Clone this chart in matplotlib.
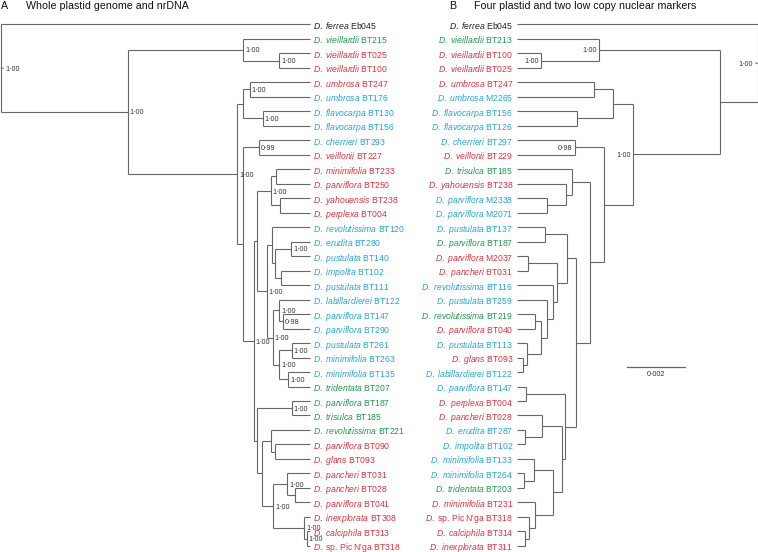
import matplotlib
matplotlib.use("Agg")
import matplotlib.pyplot as plt

plt.rcParams["font.family"] = ["Liberation Sans", "DejaVu Sans"]
plt.rcParams["mathtext.fontset"] = "custom"
plt.rcParams["mathtext.it"] = "Liberation Sans:italic"
plt.rcParams["mathtext.rm"] = "Liberation Sans"

# colour per group
group_colours = {"k": "#222222", "r": "#e3303b", "c": "#22a6dd", "g": "#1f9a4c"}
line_colour = "#666666"

# ---- Tree A: whole plastid genome and nrDNA ----
species_a = ["D. ferrea", "D. vieillardii", "D. vieillardii", "D. vieillardii", "D. umbrosa",
             "D. umbrosa", "D. flavocarpa", "D. flavocarpa", "D. cherrieri", "D. veillonii",
             "D. minimifolia", "D. parviflora", "D. yahouensis", "D. perplexa", "D. revolutissima",
             "D. erudita", "D. pustulata", "D. impolita", "D. pustulata", "D. labillardierei",
             "D. parviflora", "D. parviflora", "D. pustulata", "D. minimifolia", "D. minimifolia",
             "D. tridentata", "D. parviflora", "D. trisulca", "D. revolutissima", "D. parviflora",
             "D. glans", "D. pancheri", "D. pancheri", "D. parviflora", "D. inexplorata",
             "D. calciphila", "D."]
codes_a = ["Eb045", "BT215", "BT025", "BT100", "BT247", "BT176", "BT130", "BT156", "BT293", "BT227",
           "BT233", "BT250", "BT238", "BT004", "BT120", "BT280", "BT140", "BT102", "BT111", "BT122",
           "BT147", "BT290", "BT261", "BT263", "BT135", "BT207", "BT187", "BT185", "BT221", "BT090",
           "BT093", "BT031", "BT028", "BT041", "BT308", "BT313", "sp. Pic N'ga BT318"]
groups_a = ["k", "g", "r", "r", "r", "c", "c", "c", "c", "r",
            "r", "r", "r", "r", "c", "c", "c", "c", "c", "c",
            "c", "c", "c", "c", "c", "g", "g", "g", "g", "r",
            "r", "r", "r", "r", "r", "r", "r"]

# internal nodes: name, children, relative depth (root 0, tips 1), support
node_names_a = ["root", "ing", "vie", "v23", "R", "uf", "umb", "fla", "B", "che", "Y", "Z1",
                "P", "p1", "p2", "A", "A1", "a15", "a1516", "a1718", "A2", "a19", "a2021",
                "a22", "a2223", "a2425", "Z2", "g2627", "C", "c28", "c2930", "c31", "c3133",
                "c3233", "c3436", "c3536"]
node_children_a = [[0, "ing"], ["vie", "R"], [1, "v23"], [2, 3], ["uf", "B"], ["umb", "fla"],
                   [4, 5], [6, 7], ["che", "Y"], [8, 9], ["Z1", "Z2"], ["P", "A"],
                   ["p1", "p2"], [10, 11], [12, 13], ["A1", "A2"], [14, "a15"], ["a1516", "a1718"],
                   [15, 16], [17, 18], ["a19", "a22"], [19, "a2021"], [20, 21],
                   ["a2223", "a2425"], [22, 23], [24, 25], ["g2627", "C"], [26, 27], ["c28", "c31"],
                   [28, "c2930"], [29, 30], ["c3133", "c3436"], [31, "c3233"],
                   [32, 33], [34, "c3536"], [35, 36]]
node_depth_a = [0.0, 0.411, 0.784, 0.900, 0.765, 0.784, 0.806, 0.847, 0.784, 0.836, 0.819, 0.829,
                0.874, 0.890, 0.903, 0.860, 0.876, 0.887, 0.939, 0.906, 0.879, 0.901, 0.914,
                0.901, 0.941, 0.930, 0.829, 0.941, 0.845, 0.873, 0.887, 0.881, 0.927,
                0.951, 0.981, 0.990]
node_support_a = ["1·00", "1·00", "1·00", "1·00", "1·00", "", "1·00", "1·00", "", "0·99", "1·00", "",
                  "1·00", "", "", "1·00", "", "", "1·00", "", "1·00", "1·00", "0·98",
                  "1·00", "1·00", "1·00", "", "1·00", "", "", "", "1·00", "1·00",
                  "", "1·00", "1·00"]
tip_depth_a = 1.0

# ---- Tree B: four plastid and two low copy nuclear markers ----
species_b = ["D. ferrea", "D. vieillardii", "D. vieillardii", "D. vieillardii", "D. umbrosa",
             "D. umbrosa", "D. flavocarpa", "D. flavocarpa", "D. cherrieri", "D. veillonii",
             "D. trisulca", "D. yahouensis", "D. parviflora", "D. parviflora", "D. pustulata",
             "D. parviflora", "D. parviflora", "D. pancheri", "D. revolutissima", "D. pustulata",
             "D. revolutissima", "D. parviflora", "D. pustulata", "D. glans", "D. labillardierei",
             "D. parviflora", "D. perplexa", "D. pancheri", "D. erudita", "D. impolita",
             "D. minimifolia", "D. minimifolia", "D. tridentata", "D. minimifolia", "D.",
             "D. calciphila", "D. inexplorata"]
codes_b = ["Eb045", "BT213", "BT100", "BT025", "BT247", "M2265", "BT156", "BT126", "BT297", "BT229",
           "BT185", "BT238", "M2338", "M2071", "BT137", "BT187", "M2037", "BT031", "BT116", "BT259",
           "BT219", "BT040", "BT113", "BT093", "BT122", "BT147", "BT004", "BT028", "BT287", "BT102",
           "BT133", "BT264", "BT203", "BT231", "sp. Pic N'ga BT318", "BT314", "BT311"]
groups_b = ["k", "g", "r", "r", "r", "c", "c", "c", "c", "r",
            "g", "r", "c", "c", "c", "g", "r", "r", "c", "c",
            "g", "r", "c", "r", "c", "c", "r", "r", "c", "c",
            "c", "c", "g", "r", "r", "r", "r"]

# internal nodes: depth from root in substitutions per site
node_names_b = ["root", "ing", "vie", "v23", "N2", "uf", "umb", "fla", "N3", "che", "N4", "tri",
                "yah", "m23", "N5", "Q1", "q1415", "Q2", "q1617", "Q3", "Q4", "Q5", "q2021",
                "q22", "q2324", "S", "s2526", "T", "t27", "t2829", "U", "u30", "u3132", "u33",
                "u34", "u3536"]
node_children_b = [[0, "ing"], ["vie", "N2"], [1, "v23"], [2, 3], ["uf", "N3"], ["umb", "fla"],
                   [4, 5], [6, 7], ["che", "N4"], [8, 9], ["tri", "N5"], [10, "yah"],
                   [11, "m23"], [12, 13], ["Q1", "S"], ["q1415", "Q2"], [14, 15], ["q1617", "Q3"],
                   [16, 17], [18, "Q4"], [19, "Q5"], ["q2021", "q22"], [20, 21],
                   [22, "q2324"], [23, 24], ["s2526", "T"], [25, 26], ["t27", "U"], [27, "t2829"],
                   [28, 29], ["u30", "u33"], [30, "u3132"], [31, 32], [33, "u34"],
                   [34, "u3536"], [35, 36]]
node_depth_b = [0.0, 0.00129, 0.00545, 0.00744, 0.00427, 0.00498, 0.00561, 0.00619, 0.00527,
                0.00627, 0.00576, 0.00637, 0.00658, 0.00722, 0.00625, 0.00654, 0.00729, 0.00690,
                0.00790, 0.00704, 0.00722, 0.00745, 0.00766, 0.00792, 0.00806, 0.00662, 0.00794,
                0.00672, 0.00739, 0.00799, 0.00702, 0.00767, 0.00801, 0.00764, 0.00784, 0.00799]
node_support_b = ["1·00", "", "1·00", "1·00", "1·00", "", "", "", "", "0·98", "", "",
                  "", "", "", "", "", "", "", "", "", "", "",
                  "", "", "", "", "", "", "", "", "", "", "",
                  "", ""]
tip_depth_b = 0.00826
scale_len = 0.002


def tree_layout(names, children, depths):
    info = {n: (ch, d) for n, ch, d in zip(names, children, depths)}
    ys = {}

    def y_of(c):
        if isinstance(c, int):
            return float(c)
        if c not in ys:
            kids = [y_of(k) for k in info[c][0]]
            ys[c] = (min(kids) + max(kids)) / 2
        return ys[c]

    for n in names:
        y_of(n)
    return info, ys


def draw_tree(ax, names, children, depths, supports, tip_depth, species, codes, groups, side):
    info, ys = tree_layout(names, children, depths)
    sign = 1 if side == "left" else -1
    for n in names:
        ch, d = info[n]
        kid_y = [float(k) if isinstance(k, int) else ys[k] for k in ch]
        ax.plot([d, d], [min(kid_y), max(kid_y)], color=line_colour, lw=0.8,
                solid_capstyle="butt", clip_on=False)
        for k, ky in zip(ch, kid_y):
            kd = tip_depth if isinstance(k, int) else info[k][1]
            ax.plot([d, kd], [ky, ky], color=line_colour, lw=0.8,
                    solid_capstyle="butt", clip_on=False)

    # short tick next to the root support value
    root_y = ys[names[0]]
    ax.annotate("", xy=(depths[0], root_y), xytext=(sign * 1.8, 0), textcoords="offset points",
                arrowprops=dict(arrowstyle="-", color=line_colour, lw=0.7,
                                shrinkA=0, shrinkB=0), annotation_clip=False)

    for j, (n, s) in enumerate(zip(names, supports)):
        if not s:
            continue
        d = info[n][1]
        gap = 3.0 if j == 0 else 1.3
        if side == "left":
            ax.annotate(s, xy=(d, ys[n]), xytext=(gap, -0.8), textcoords="offset points",
                        ha="left", va="center", fontsize=5.2, color="#333333",
                        annotation_clip=False)
        else:
            ax.annotate(s, xy=(d, ys[n]), xytext=(-gap - 0.4, -0.8), textcoords="offset points",
                        ha="right", va="center", fontsize=5.2, color="#333333",
                        annotation_clip=False)

    for i, (sp, code, g) in enumerate(zip(species, codes, groups)):
        label = "$\\mathit{" + sp.replace(" ", "\\ ") + "}$ " + code
        if side == "left":
            ax.annotate(label, xy=(tip_depth, i), xytext=(2.3, 0), textcoords="offset points",
                        ha="left", va="center_baseline", fontsize=6.2, color=group_colours[g],
                        annotation_clip=False)
        else:
            ax.annotate(label, xy=(tip_depth, i), xytext=(-2.8, 0), textcoords="offset points",
                        ha="right", va="center_baseline", fontsize=6.2, color=group_colours[g],
                        annotation_clip=False)
    return ys


W, H = 758, 552
fig = plt.figure(figsize=(W / 100, H / 100), dpi=100)


def px_axes(x0, x1, y0, y1):
    ax = fig.add_axes([x0 / W, 1 - y1 / H, (x1 - x0) / W, (y1 - y0) / H])
    ax.set_axis_off()
    return ax


axA = px_axes(1, 310, 24.3, 545.9)
axA.set_xlim(0, tip_depth_a)
axA.set_ylim(len(codes_a) - 1, 0)
draw_tree(axA, node_names_a, node_children_a, node_depth_a, node_support_a, tip_depth_a,
          species_a, codes_a, groups_a, "left")

axB = px_axes(517, 758, 24.3, 545.9)
axB.set_xlim(tip_depth_b, 0)
axB.set_ylim(len(codes_b) - 1, 0)
draw_tree(axB, node_names_b, node_children_b, node_depth_b, node_support_b, tip_depth_b,
          species_b, codes_b, groups_b, "right")

# scale bar
axB.plot([0.0025, 0.0025 + scale_len], [23.63, 23.63], color=line_colour, lw=0.9, clip_on=False)
axB.text(0.0025 + scale_len / 2, 24.2, "0·002", ha="center", va="center", fontsize=5.2, color="#333333")

# panel titles
fig.text(0.5 / W, 1 - 6 / H, "A", ha="left", va="center", fontsize=7.7, color="#111111")
fig.text(26 / W, 1 - 6 / H, "Whole plastid genome and nrDNA", ha="left", va="center",
         fontsize=7.7, color="#111111")
fig.text(449 / W, 1 - 6 / H, "B", ha="left", va="center", fontsize=7.7, color="#111111")
fig.text(474 / W, 1 - 6 / H, "Four plastid and two low copy nuclear markers", ha="left",
         va="center", fontsize=7.7, color="#111111")

fig.savefig("out.png", dpi=100, facecolor="white")
